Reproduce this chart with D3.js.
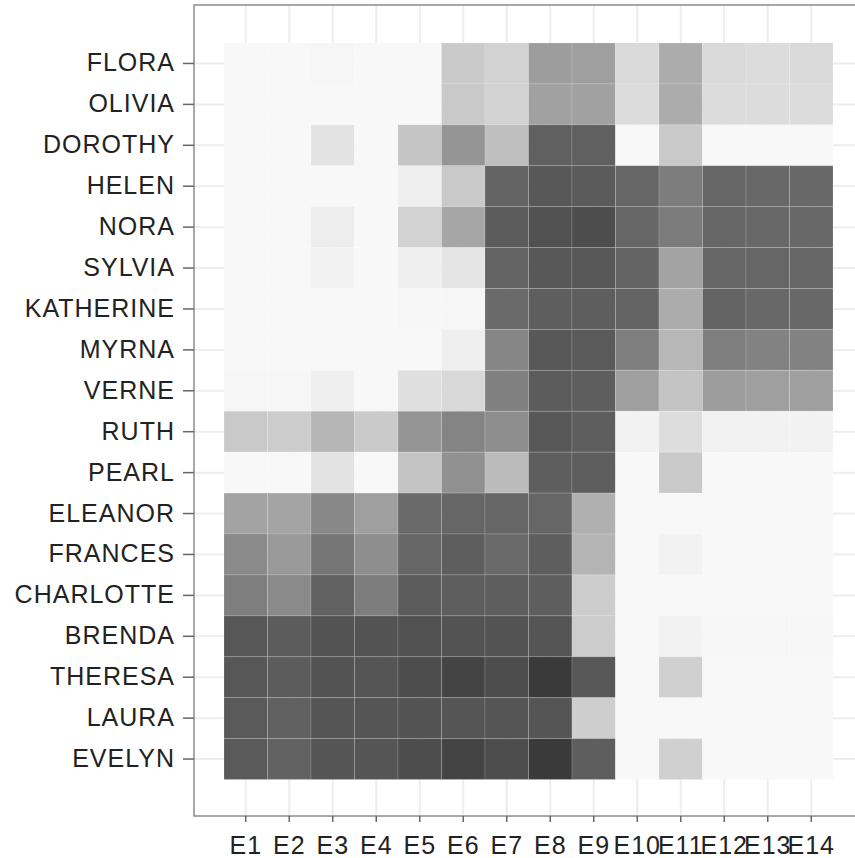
<!DOCTYPE html>
<html>
<head>
<meta charset="utf-8">
<script src="https://cdn.jsdelivr.net/npm/d3@7"></script>
<style>
  body { margin: 0; background: #fff; }
  text { font-family: "Liberation Sans", Arial, sans-serif; }
</style>
</head>
<body>
<div id="chart"></div>
<script>
// rows from top to bottom
var women = ["FLORA", "OLIVIA", "DOROTHY", "HELEN", "NORA", "SYLVIA", "KATHERINE",
  "MYRNA", "VERNE", "RUTH", "PEARL", "ELEANOR", "FRANCES", "CHARLOTTE", "BRENDA",
  "THERESA", "LAURA", "EVELYN"];

var events = ["E1", "E2", "E3", "E4", "E5", "E6", "E7", "E8", "E9", "E10", "E11",
  "E12", "E13", "E14"];

// shade level per woman (0 = lightest, 100 = darkest)
var flora     = [0, 0, 1, 0, 0, 24, 20, 48, 47, 16, 40, 16, 15, 16];
var olivia    = [0, 0, 0, 0, 0, 25, 20, 46, 46, 15, 40, 15, 15, 15];
var dorothy   = [0, 0, 11, 0, 27, 52, 30, 80, 80, 0, 25, 0, 0, 0];
var helen     = [0, 0, 0, 0, 5, 25, 78, 84, 83, 77, 65, 77, 76, 76];
var nora      = [0, 0, 6, 0, 20, 43, 82, 88, 90, 77, 66, 77, 76, 76];
var sylvia    = [0, 0, 3, 0, 5, 10, 78, 84, 84, 78, 45, 77, 77, 77];
var katherine = [0, 0, 0, 0, 1, 1, 75, 81, 81, 78, 40, 78, 76, 76];
var myrna     = [0, 0, 0, 0, 0, 5, 60, 84, 83, 64, 34, 64, 62, 62];
var verne     = [1, 1, 5, 0, 13, 17, 63, 82, 81, 47, 28, 48, 47, 47];
var ruth      = [25, 23, 35, 24, 52, 61, 56, 84, 81, 3, 14, 3, 3, 3];
var pearl     = [0, 0, 11, 0, 28, 54, 32, 81, 81, 0, 25, 0, 0, 0];
var eleanor   = [45, 44, 59, 47, 75, 77, 77, 77, 38, 0, 0, 0, 0, 0];
var frances   = [58, 50, 69, 56, 77, 81, 75, 81, 36, 0, 3, 0, 0, 0];
var charlotte = [64, 58, 79, 65, 82, 81, 81, 81, 23, 0, 0, 0, 0, 0];
var brenda    = [85, 82, 87, 87, 88, 87, 87, 86, 23, 0, 3, 1, 1, 1];
var theresa   = [85, 82, 87, 86, 90, 95, 90, 100, 85, 0, 21, 0, 0, 0];
var laura     = [83, 80, 86, 86, 87, 86, 86, 86, 22, 0, 0, 0, 0, 0];
var evelyn    = [83, 79, 86, 86, 90, 95, 90, 100, 81, 0, 21, 0, 0, 0];

var rows = [flora, olivia, dorothy, helen, nora, sylvia, katherine, myrna, verne,
  ruth, pearl, eleanor, frances, charlotte, brenda, theresa, laura, evelyn];

var grid = [];
rows.forEach(function(r, i) {
  r.forEach(function(v, j) {
    grid.push({ woman: women[i], event: events[j], value: v });
  });
});

var width = 855, height = 858;
var panel = { left: 194, top: 5, right: 863, bottom: 816 };

var svg = d3
  .select("#chart")
  .append("svg")
  .attr("width", width)
  .attr("height", height);

var x = d3
  .scaleBand()
  .domain(events)
  .range([panel.left + 30, panel.right - 30]);

var y = d3
  .scaleBand()
  .domain(women)
  .range([43, panel.bottom - 36.5]);

var c = d3
  .scaleLinear()
  .domain([0, 100])
  .range(["#f8f8f8", "#3a3a3a"]);

// background grid at the band centres
var g = svg.append("g");
g.selectAll("line.vx")
  .data(events)
  .enter()
  .append("line")
  .attr("x1", function(d) { return x(d) + x.bandwidth() / 2; })
  .attr("x2", function(d) { return x(d) + x.bandwidth() / 2; })
  .attr("y1", panel.top)
  .attr("y2", panel.bottom)
  .style("stroke", "#ededed")
  .style("stroke-width", 2);
g.selectAll("line.hy")
  .data(women)
  .enter()
  .append("line")
  .attr("y1", function(d) { return y(d) + y.bandwidth() / 2; })
  .attr("y2", function(d) { return y(d) + y.bandwidth() / 2; })
  .attr("x1", panel.left)
  .attr("x2", panel.right)
  .style("stroke", "#ededed")
  .style("stroke-width", 2);

svg
  .selectAll("rect.cell")
  .data(grid)
  .enter()
  .append("rect")
  .attr("class", "cell")
  .attr("x", function(d) { return x(d.event); })
  .attr("y", function(d) { return y(d.woman); })
  .attr("width", x.bandwidth())
  .attr("height", y.bandwidth())
  .style("fill", function(d) { return c(d.value); })
  .style("stroke", "#fff")
  .style("stroke-opacity", 0.15)
  .style("stroke-width", 1);

svg
  .append("rect")
  .attr("x", panel.left)
  .attr("y", panel.top)
  .attr("width", panel.right - panel.left)
  .attr("height", panel.bottom - panel.top)
  .style("fill", "none")
  .style("stroke", "#8c8c8c")
  .style("stroke-width", 1.5);

var yAxis = svg
  .append("g")
  .attr("transform", "translate(" + panel.left + ",0)")
  .call(d3.axisLeft(y).tickSize(11).tickPadding(8));

var xAxis = svg
  .append("g")
  .attr("transform", "translate(0," + panel.bottom + ")")
  .call(d3.axisBottom(x).tickSize(6).tickPadding(14));

[yAxis, xAxis].forEach(function(a) {
  a.select(".domain").remove();
  a.selectAll(".tick line").style("stroke", "#666").style("stroke-width", 1.5);
  a.selectAll(".tick text")
    .style("font-size", "25px")
    .style("letter-spacing", "1px")
    .style("fill", "#222");
});
</script>
</body>
</html>
